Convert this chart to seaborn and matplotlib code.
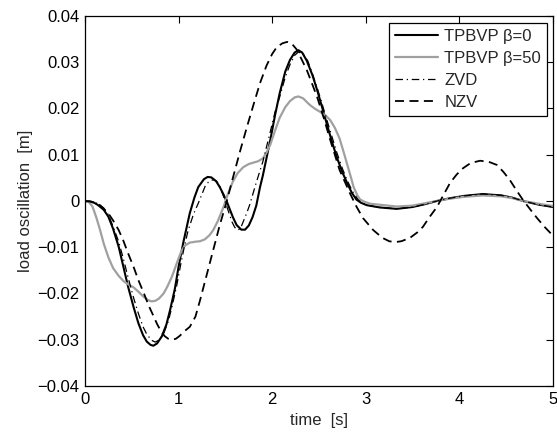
import numpy as np
import seaborn as sns
import matplotlib.pyplot as plt

# values (time [s], oscillation [m])
t_b0 = [0, 0.05, 0.1, 0.14, 0.2, 0.25, 0.30, 0.36, 0.41, 0.46, 0.52, 0.57, 0.62,
        0.66, 0.70, 0.73, 0.77, 0.82, 0.87, 0.91, 0.96, 1.0, 1.05, 1.12, 1.17,
        1.21, 1.27, 1.31, 1.35, 1.40, 1.44, 1.48, 1.52, 1.58, 1.62, 1.67, 1.71,
        1.75, 1.79, 1.83, 1.87, 1.90, 1.98, 2.03, 2.08, 2.14, 2.19, 2.24, 2.28,
        2.32, 2.37, 2.43, 2.48, 2.53, 2.58, 2.64, 2.69, 2.75, 2.80, 2.85, 2.90,
        2.95, 3.01, 3.15, 3.33, 3.5, 3.63, 3.76, 3.9, 4.05, 4.25, 4.45, 4.57,
        4.68, 4.85, 5.0]
y_b0 = [0, -0.0001, -0.0004, -0.0009, -0.0019, -0.0034, -0.006, -0.0099, -0.0142,
        -0.0185, -0.023, -0.0264, -0.029, -0.0304, -0.0311, -0.0313, -0.0308,
        -0.0293, -0.0267, -0.0235, -0.019, -0.0142, -0.009, -0.0026, 0.0008,
        0.003, 0.0047, 0.0052, 0.0051, 0.0043, 0.003, 0.0014, -0.0004, -0.0035,
        -0.0052, -0.0062, -0.0062, -0.0053, -0.0035, -0.001, 0.003, 0.0055,
        0.0132, 0.0185, 0.0233, 0.028, 0.0305, 0.0321, 0.0326, 0.0321, 0.0303,
        0.0272, 0.024, 0.0205, 0.0169, 0.0127, 0.0095, 0.0062, 0.0039, 0.0018,
        0.0003, -0.0004, -0.0009, -0.0014, -0.0017, -0.0013, -0.0007, 0.0,
        0.0006, 0.0011, 0.0015, 0.0012, 0.0007, 0.0, -0.0008, -0.0013]

t_b50 = [0, 0.04, 0.08, 0.12, 0.16, 0.20, 0.25, 0.30, 0.36, 0.41, 0.46, 0.52, 0.57,
         0.62, 0.67, 0.71, 0.75, 0.79, 0.84, 0.88, 0.93, 0.98, 1.03, 1.07, 1.12,
         1.18, 1.23, 1.28, 1.33, 1.37, 1.42, 1.48, 1.53, 1.58, 1.63, 1.69, 1.75,
         1.80, 1.85, 1.90, 1.94, 1.98, 2.03, 2.08, 2.14, 2.19, 2.24, 2.28, 2.33,
         2.40, 2.46, 2.51, 2.57, 2.62, 2.67, 2.72, 2.76, 2.80, 2.84, 2.87, 2.91,
         2.94, 2.99, 3.05, 3.33, 3.5, 3.63, 3.76, 3.9, 4.05, 4.25, 4.45, 4.57,
         4.68, 4.85, 5.0]
y_b50 = [0, -0.0002, -0.0012, -0.0035, -0.0062, -0.0092, -0.0122, -0.0145, -0.0162,
         -0.0173, -0.018, -0.0187, -0.0196, -0.0206, -0.0214, -0.0217, -0.0216,
         -0.0211, -0.02, -0.0185, -0.0163, -0.0135, -0.0108, -0.0096, -0.009,
         -0.0088, -0.0087, -0.0083, -0.0074, -0.0063, -0.0043, -0.0013, 0.0017,
         0.0042, 0.006, 0.0073, 0.008, 0.0083, 0.0086, 0.0092, 0.0105, 0.0122,
         0.0152, 0.018, 0.0203, 0.0216, 0.0224, 0.0226, 0.0222, 0.0208, 0.0199,
         0.0193, 0.0185, 0.0175, 0.0158, 0.0135, 0.0108, 0.008, 0.0052, 0.003,
         0.0012, 0.0003, -0.0002, -0.0006, -0.0012, -0.001, -0.0005, 0.0, 0.0005,
         0.0009, 0.0012, 0.001, 0.0006, 0.0, -0.0006, -0.0011]

t_zvd = [0, 0.07, 0.14, 0.2, 0.25, 0.30, 0.36, 0.41, 0.46, 0.52, 0.57, 0.62, 0.66,
         0.71, 0.75, 0.79, 0.84, 0.89, 0.93, 0.98, 1.02, 1.06, 1.10, 1.16, 1.21,
         1.25, 1.29, 1.33, 1.37, 1.41, 1.44, 1.48, 1.52, 1.57, 1.60, 1.63, 1.66,
         1.69, 1.73, 1.76, 1.83, 1.90, 1.98, 2.03, 2.08, 2.14, 2.19, 2.24, 2.28,
         2.33, 2.38, 2.43, 2.48, 2.53, 2.58, 2.64, 2.69, 2.75, 2.80, 2.86, 2.92,
         2.96, 3.01, 3.15, 3.33, 3.5, 3.63, 3.76, 3.9, 4.05, 4.25, 4.45, 4.57,
         4.68, 4.85, 5.0]
y_zvd = [0, -0.0001, -0.0006, -0.0015, -0.003, -0.0055, -0.0088, -0.0125, -0.0165,
         -0.021, -0.0243, -0.0272, -0.0288, -0.0301, -0.0305, -0.0301, -0.0287,
         -0.026, -0.0228, -0.0183, -0.014, -0.01, -0.0065, -0.0028, -0.0005,
         0.0015, 0.0035, 0.0043, 0.0046, 0.0042, 0.0032, 0.001, -0.0015, -0.0045,
         -0.0057, -0.0063, -0.006, -0.0045, -0.0025, -0.0008, 0.004, 0.0085,
         0.015, 0.0192, 0.0225, 0.0268, 0.0295, 0.0315, 0.0322, 0.0318, 0.0303,
         0.0275, 0.0245, 0.0212, 0.0178, 0.0138, 0.0105, 0.007, 0.0045, 0.002,
         0.0002, -0.0004, -0.0009, -0.0014, -0.0017, -0.0013, -0.0007, 0.0,
         0.0006, 0.0011, 0.0015, 0.0012, 0.0007, 0.0, -0.0008, -0.0013]

t_nzv = [0, 0.08, 0.16, 0.25, 0.30, 0.36, 0.41, 0.46, 0.52, 0.57, 0.63, 0.68, 0.73,
         0.77, 0.81, 0.85, 0.89, 0.93, 0.97, 1.01, 1.06, 1.12, 1.18, 1.23, 1.30,
         1.37, 1.44, 1.51, 1.58, 1.66, 1.73, 1.80, 1.87, 1.94, 2.00, 2.05, 2.11,
         2.16, 2.21, 2.26, 2.31, 2.37, 2.48, 2.55, 2.62, 2.72, 2.83, 2.90, 2.97,
         3.08, 3.18, 3.25, 3.31, 3.38, 3.47, 3.55, 3.61, 3.68, 3.76, 3.83, 3.90,
         3.97, 4.04, 4.12, 4.22, 4.31, 4.40, 4.47, 4.54, 4.61, 4.68, 4.76, 4.83,
         4.91, 5.0]
y_nzv = [0, -0.0002, -0.0009, -0.0027, -0.0042, -0.0063, -0.0086, -0.0113, -0.0143,
         -0.0171, -0.02, -0.0226, -0.0248, -0.0266, -0.0281, -0.0292, -0.0298,
         -0.03, -0.0298, -0.0292, -0.0282, -0.0272, -0.025, -0.0214, -0.016,
         -0.0106, -0.0052, -0.0004, 0.005, 0.011, 0.016, 0.0208, 0.0255, 0.0293,
         0.0318, 0.0333, 0.0341, 0.0344, 0.034, 0.0328, 0.0308, 0.0283, 0.0225,
         0.018, 0.0132, 0.0067, 0.0017, -0.0012, -0.0037, -0.0063, -0.008, -0.0087,
         -0.0089, -0.0087, -0.008, -0.0068, -0.0056, -0.0035, -0.0013, 0.0013,
         0.0039, 0.0057, 0.0071, 0.0082, 0.0087, 0.0085, 0.0078, 0.0063, 0.0045,
         0.0023, 0.0002, -0.0019, -0.0037, -0.0056, -0.0075]

x_ticks = [0, 1, 2, 3, 4, 5]
y_ticks = [-0.04, -0.03, -0.02, -0.01, 0, 0.01, 0.02, 0.03, 0.04]
y_ticklabels = ["\u22120.04", "\u22120.03", "\u22120.02", "\u22120.01", "0",
                "0.01", "0.02", "0.03", "0.04"]

sns.set_style("white")
plt.rcParams["font.family"] = ["Liberation Sans", "DejaVu Sans"]
plt.rcParams["font.size"] = 12
plt.rcParams["lines.solid_joinstyle"] = "round"

fig, ax = plt.subplots(figsize=(5.57, 4.32), dpi=100)
fig.subplots_adjust(left=0.1526, right=0.9928, bottom=0.1065, top=0.963)

sns.lineplot(x=t_b0, y=y_b0, ax=ax, color="black", lw=1.5, label="TPBVP \u03b2=0")
sns.lineplot(x=t_b50, y=y_b50, ax=ax, color="#a0a0a0", lw=1.6, label="TPBVP \u03b2=50")
sns.lineplot(x=t_zvd, y=y_zvd, ax=ax, color="black", lw=0.9,
             linestyle=(0, (6, 3, 1, 3)), label="ZVD")
sns.lineplot(x=t_nzv, y=y_nzv, ax=ax, color="black", lw=1.3,
             linestyle=(0, (5, 3)), label="NZV")

ax.set_xlim(0, 5)
ax.set_ylim(-0.04, 0.04)
ax.set_xticks(x_ticks)
ax.set_yticks(y_ticks)
ax.set_yticklabels(y_ticklabels)
ax.tick_params(direction="in", top=True, right=True, length=5, width=0.8,
               colors="black", labelsize=12, pad=4)
for s in ax.spines.values():
    s.set_color("black")
    s.set_linewidth(0.9)

ax.set_xlabel("time  [s]", fontsize=12, labelpad=5)
ax.set_ylabel("load oscillation  [m]", fontsize=12, labelpad=3)

leg = ax.legend(loc="upper right", bbox_to_anchor=(0.987, 0.981), borderaxespad=0,
                fancybox=False, edgecolor="black", framealpha=1, fontsize=12,
                handlelength=2.6, handletextpad=0.35, labelspacing=0.42,
                borderpad=0.35)
leg.get_frame().set_linewidth(0.9)

plt.savefig("out.png", dpi=100)
plt.close()
